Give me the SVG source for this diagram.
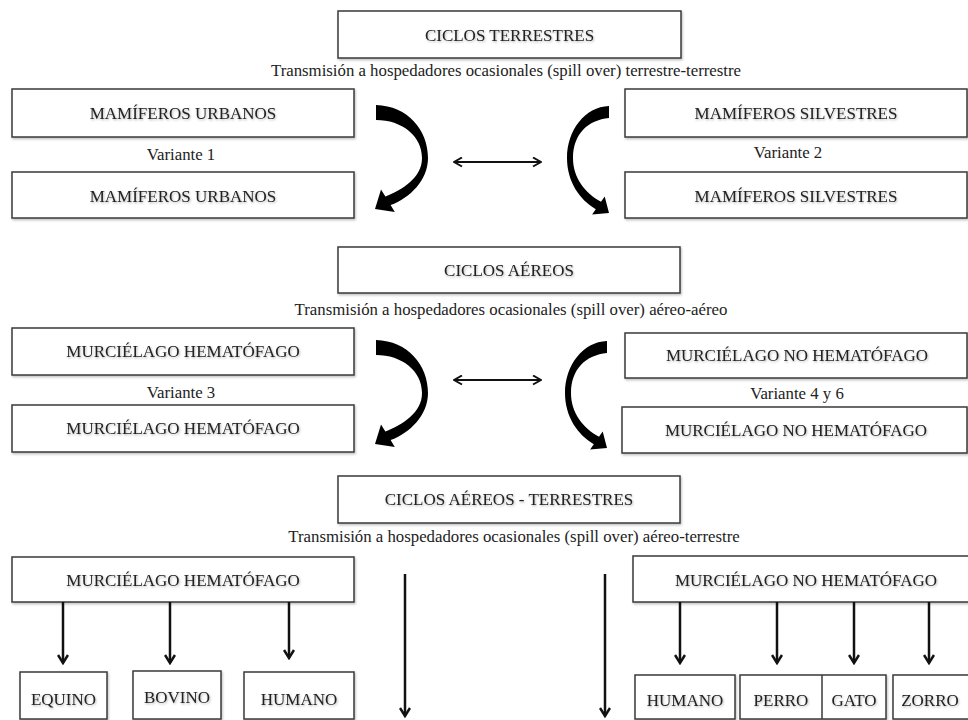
<svg xmlns="http://www.w3.org/2000/svg" width="968" height="720" viewBox="0 0 968 720">
<defs>
<style>
.box{fill:#fff;stroke:#3a3a3a;stroke-width:1.5;filter:url(#sh)}
.t{font-family:"Liberation Serif","Times New Roman",serif;font-size:17px;fill:#222;text-anchor:middle;filter:url(#tsh)}
.s{font-family:"Liberation Serif","Times New Roman",serif;font-size:16.8px;fill:#222;text-anchor:middle}
.ln{stroke:#111;stroke-width:2.5;fill:none}
.thin{stroke:#111;stroke-width:2;fill:none}
.curve{fill:#000}
</style>
<filter id="sh" x="-5%" y="-10%" width="110%" height="130%">
<feDropShadow dx="1" dy="1.5" stdDeviation="1" flood-color="#000" flood-opacity="0.25"/>
</filter>
<filter id="tsh" x="-5%" y="-20%" width="110%" height="150%">
<feDropShadow dx="0.8" dy="1.2" stdDeviation="0.9" flood-color="#000" flood-opacity="0.3"/>
</filter>
<marker id="ah" viewBox="0 0 12 12" refX="10" refY="6" markerWidth="12" markerHeight="12" markerUnits="userSpaceOnUse" orient="auto">
<polyline points="2,1 10,6 2,11" fill="none" stroke="#111" stroke-width="2.5"/>
</marker>
<marker id="dh" viewBox="0 0 11 11" refX="10" refY="5.5" markerWidth="11" markerHeight="11" markerUnits="userSpaceOnUse" orient="auto-start-reverse">
<polyline points="2,1 10,5.5 2,10" fill="none" stroke="#111" stroke-width="2"/>
</marker>
<path id="cl" d="M376 105 C408 106 428 130 428 158 C428 180 410 198 390.6 205.1 L394.8 212 L375 209 L381 189.5 L385.4 196.5 C402 190 422 178 422 158 C422 136 402 120 376 120 Z"/>
<path id="cr" d="M609 106 C585 107 567 130 567 158 C567 182 580 200 595.8 209.2 L592.1 214.5 L609 213 L604.7 196.5 L601 201.8 C585 193 573 178 573 158 C573 134 588 120 609 118 Z"/>
</defs>

<g id="ciclos-terrestres"><rect class="box" x="338" y="11" width="343" height="47"/><text class="t" x="509.5" y="41">CICLOS TERRESTRES</text></g>
<text class="s" x="506" y="76">Transmisión a hospedadores ocasionales (spill over) terrestre-terrestre</text>
<g id="mam-urb-1"><rect class="box" x="12" y="89" width="342" height="48"/><text class="t" x="183" y="119">MAMÍFEROS URBANOS</text></g>
<text class="s" x="181" y="160">Variante 1</text>
<g id="mam-urb-2"><rect class="box" x="12" y="172" width="342" height="46"/><text class="t" x="183" y="202">MAMÍFEROS URBANOS</text></g>
<g id="mam-sil-1"><rect class="box" x="625" y="89" width="342" height="48"/><text class="t" x="796" y="119">MAMÍFEROS SILVESTRES</text></g>
<text class="s" x="788" y="158">Variante 2</text>
<g id="mam-sil-2"><rect class="box" x="625" y="172" width="342" height="46"/><text class="t" x="796" y="202">MAMÍFEROS SILVESTRES</text></g>

<g id="ciclos-aereos"><rect class="box" x="338" y="247" width="342" height="46"/><text class="t" x="509" y="276">CICLOS AÉREOS</text></g>
<text class="s" x="511" y="315">Transmisión a hospedadores ocasionales (spill over) aéreo-aéreo</text>
<g id="murc-hem-1"><rect class="box" x="12" y="328" width="342" height="47"/><text class="t" x="183" y="357">MURCIÉLAGO HEMATÓFAGO</text></g>
<text class="s" x="181" y="398">Variante 3</text>
<g id="murc-hem-2"><rect class="box" x="12" y="405" width="342" height="47"/><text class="t" x="183" y="434">MURCIÉLAGO HEMATÓFAGO</text></g>
<g id="murc-nohem-1"><rect class="box" x="625" y="333" width="342" height="45"/><text class="t" x="797" y="361">MURCIÉLAGO NO HEMATÓFAGO</text></g>
<text class="s" x="797" y="399">Variante 4 y 6</text>
<g id="murc-nohem-2"><rect class="box" x="622" y="407" width="345" height="46"/><text class="t" x="796" y="436">MURCIÉLAGO NO HEMATÓFAGO</text></g>

<g id="ciclos-aereos-terrestres"><rect class="box" x="338" y="476" width="342" height="47"/><text class="t" x="509" y="505">CICLOS AÉREOS - TERRESTRES</text></g>
<text class="s" x="514" y="542">Transmisión a hospedadores ocasionales (spill over) aéreo-terrestre</text>
<g id="murc-hem-3"><rect class="box" x="12" y="557" width="342" height="45"/><text class="t" x="183" y="586">MURCIÉLAGO HEMATÓFAGO</text></g>
<g id="murc-nohem-3"><rect class="box" x="633" y="556" width="345" height="46"/><text class="t" x="806" y="586">MURCIÉLAGO NO HEMATÓFAGO</text></g>

<g id="equino"><rect class="box" x="20" y="672" width="87" height="47"/><text class="t" x="63.5" y="705">EQUINO</text></g>
<g id="bovino"><rect class="box" x="133" y="671" width="88" height="48"/><text class="t" x="177" y="703">BOVINO</text></g>
<g id="humano-1"><rect class="box" x="244" y="672" width="110" height="47"/><text class="t" x="299" y="705">HUMANO</text></g>
<g id="humano-2"><rect class="box" x="635" y="675" width="100" height="44"/><text class="t" x="685" y="706">HUMANO</text></g>
<g id="perro-gato"><rect class="box" x="740" y="675" width="146" height="44"/><line x1="822" y1="675" x2="822" y2="719" stroke="#3a3a3a" stroke-width="1.5"/><text class="t" x="781" y="706">PERRO</text><text class="t" x="854" y="706">GATO</text></g>
<g id="zorro"><rect class="box" x="893" y="675" width="85" height="44"/><text class="t" x="930" y="706">ZORRO</text></g>

<g id="connectors">
<use href="#cl" class="curve"/>
<use href="#cr" class="curve"/>
<use href="#cl" class="curve" transform="translate(0,235)"/>
<use href="#cr" class="curve" transform="translate(-2,235)"/>
<line class="thin" x1="454" y1="162" x2="541" y2="162" marker-start="url(#dh)" marker-end="url(#dh)"/>
<line class="thin" x1="454" y1="380" x2="541" y2="380" marker-start="url(#dh)" marker-end="url(#dh)"/>
<line class="ln" x1="63" y1="602" x2="63" y2="663" marker-end="url(#ah)"/>
<line class="ln" x1="170" y1="602" x2="170" y2="663" marker-end="url(#ah)"/>
<line class="ln" x1="289" y1="602" x2="289" y2="658" marker-end="url(#ah)"/>
<line class="ln" x1="405" y1="574" x2="405" y2="716" marker-end="url(#ah)"/>
<line class="ln" x1="605" y1="574" x2="605" y2="716" marker-end="url(#ah)"/>
<line class="ln" x1="680" y1="602" x2="680" y2="663" marker-end="url(#ah)"/>
<line class="ln" x1="777" y1="602" x2="777" y2="663" marker-end="url(#ah)"/>
<line class="ln" x1="854" y1="602" x2="854" y2="663" marker-end="url(#ah)"/>
<line class="ln" x1="929" y1="602" x2="929" y2="663" marker-end="url(#ah)"/>
</g>
</svg>
